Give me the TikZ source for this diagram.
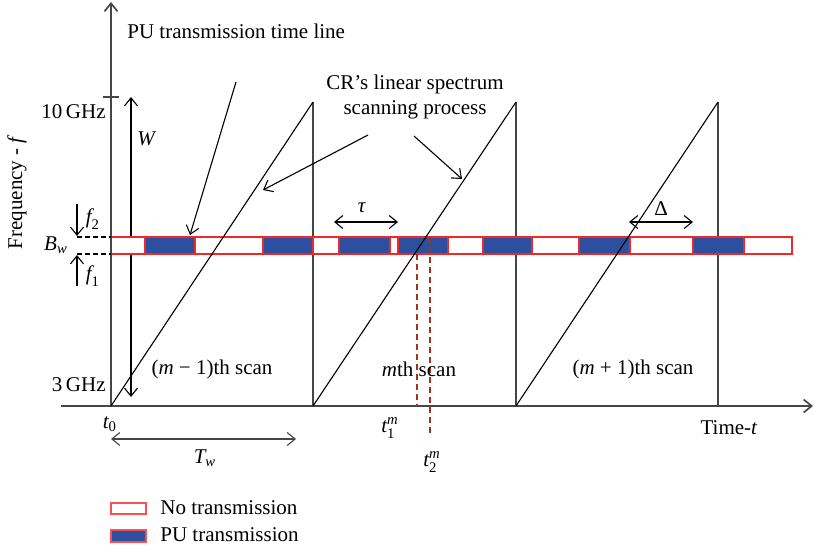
\documentclass[tikz,border=0pt]{standalone}
\usepackage{amsmath}
\usepackage{fontspec}
\setmainfont{Liberation Serif}
\usetikzlibrary{arrows.meta}
\definecolor{pub}{RGB}{46,78,158}
\definecolor{bandred}{RGB}{240,40,40}
\definecolor{legred}{RGB}{250,80,80}
\definecolor{axisgray}{RGB}{70,70,70}
\definecolor{dashred}{RGB}{160,50,30}
\begin{document}
\begin{tikzpicture}[x=0.5pt,y=-0.5pt,
  font=\fontsize{10.5}{12.5}\selectfont,
  onetip/.style={-{Straight Barb[length=4pt,width=6.5pt]}, line width=0.55pt},
  twotip/.style={{Straight Barb[length=4pt,width=6.5pt]}-{Straight Barb[length=4pt,width=6.5pt]}, line width=0.55pt},
  axisline/.style={draw=axisgray, line width=0.85pt},
  dropline/.style={draw=axisgray, line width=0.75pt},
  rampline/.style={draw=black, line width=0.55pt},
  whitecell/.style={draw=bandred, fill=white, line width=0.6pt},
  bluecell/.style={draw=bandred, fill=pub, line width=0.6pt},
  reddash/.style={draw=dashred, line width=0.6pt, dash pattern=on 3pt off 2pt},
  blackdash/.style={draw=black, line width=0.55pt, dash pattern=on 2.5pt off 1.5pt},
  lbl/.style={inner sep=0pt}]
\useasboundingbox (0,0) rectangle (815,548);

% coordinates
\coordinate (O) at (111,406);
\coordinate (ytop) at (111,2);
\coordinate (xleft) at (61,406);
\coordinate (xright) at (813,406);
\coordinate (tickL) at (103,97);
\coordinate (tickR) at (119,97);

% drop lines of the scans
\coordinate (p1) at (313,102); \coordinate (b1) at (313,406);
\coordinate (p2) at (516,102); \coordinate (b2) at (516,406);
\coordinate (p3) at (718,102); \coordinate (b3) at (718,406);
\draw[dropline] (p1) -- (b1);
\draw[dropline] (p2) -- (b2);
\draw[dropline] (p3) -- (b3);

% W arrow
\coordinate (wtop) at (131,97);
\coordinate (wbot) at (131,397);
\draw[twotip] (wtop) -- (wbot);

% band
\foreach \a/\b in {111/145,195/263,313/339,390/398,448/483,532/579,630/693,744/792}
  \draw[whitecell] (\a,237) rectangle (\b,254);
\foreach \a/\b in {145/195,263/313,339/390,398/448,483/532,579/630,693/744}
  \draw[bluecell] (\a,237) rectangle (\b,254);

% axes
\draw[axisline, -{Straight Barb[length=4pt,width=6.5pt]}] (O) -- (ytop);
\draw[axisline, -{Straight Barb[length=4pt,width=6.5pt]}] (xleft) -- (xright);
\draw[axisline] (tickL) -- (tickR);

% ramps
\draw[rampline] (O) -- (p1);
\draw[rampline] (b1) -- (p2);
\draw[rampline] (b2) -- (p3);

% red dashed lines
\coordinate (d1a) at (417,254); \coordinate (d1b) at (417,406);
\coordinate (d2a) at (430,237); \coordinate (d2b) at (430,433);
\draw[reddash] (d1a) -- (d1b);
\draw[reddash] (d2a) -- (d2b);

% Bw dashes and f arrows
\coordinate (bw1a) at (77,237); \coordinate (bw1b) at (111,237);
\coordinate (bw2a) at (77,254); \coordinate (bw2b) at (111,254);
\draw[blackdash] (bw1a) -- (bw1b);
\draw[blackdash] (bw2a) -- (bw2b);
\coordinate (f2s) at (77,204); \coordinate (f2e) at (77,236);
\coordinate (f1s) at (77,286); \coordinate (f1e) at (77,255);
\draw[onetip] (f2s) -- (f2e);
\draw[onetip] (f1s) -- (f1e);

% tau, Delta, Tw arrows
\coordinate (taua) at (334,222); \coordinate (taub) at (398,222);
\draw[twotip] (taua) -- (taub);
\coordinate (dela) at (629,222); \coordinate (delb) at (693,222);
\draw[twotip] (dela) -- (delb);
\coordinate (twa) at (111,439); \coordinate (twb) at (296,439);
\draw[twotip, draw=axisgray] (twa) -- (twb);

% labels
\node[lbl, anchor=west] (pulab) at (127,31) {PU transmission time line};
\node[lbl, align=center] (crlab) at (415,97) {CR’s linear spectrum\\scanning process};
\node[lbl, anchor=east] (ghz10) at (106,112) {10\,GHz};
\node[lbl, anchor=east] (ghz3) at (106,385) {3\,GHz};
\node[lbl] (wlab) at (147,139) {\textit{W}};
\node[lbl] (f2lab) at (93,219) {$\textit{f}_{\text{2}}$};
\node[lbl] (f1lab) at (93,276) {$\textit{f}_{\text{1}}$};
\node[lbl] (bwlab) at (56,245) {$\textit{B}_{\textit{w}}$};
\node[lbl, rotate=90] (freqlab) at (17,192) {Frequency - \textit{f}};
\node[lbl] (taulab) at (362,208) {\textit{τ}};
\node[lbl] (dellab) at (661,209) {Δ};
\node[lbl] (scan1) at (212,369) {(\textit{m} − 1)th scan};
\node[lbl] (scan2) at (419,369) {\textit{m}th scan};
\node[lbl] (scan3) at (633,369) {(\textit{m} + 1)th scan};
\node[lbl] (t0lab) at (110,424) {$\textit{t}_{\text{0}}$};
\node[lbl] (t1lab) at (390,428) {$\textit{t}^{\textit{m}}_{\text{1}}$};
\node[lbl] (t2lab) at (432,462) {$\textit{t}^{\textit{m}}_{\text{2}}$};
\node[lbl] (twlab) at (205,458) {$\textit{T}_{\textit{w}}$};
\node[lbl] (timelab) at (729,428) {Time-\textit{t}};

% label arrows
\coordinate (pua) at (236,82); \coordinate (pub2) at (190,235);
\draw[onetip] (pua) -- (pub2);
\coordinate (cra) at (368,135); \coordinate (crb) at (263,190);
\draw[onetip] (cra) -- (crb);
\coordinate (crc) at (414,136); \coordinate (crd) at (462,179);
\draw[onetip] (crc) -- (crd);

% legend
\draw[draw=legred, fill=white, line width=0.6pt] (111,503) rectangle (146,514);
\draw[draw=legred, fill=pub, line width=0.6pt] (111,530) rectangle (146,542);
\node[lbl, anchor=west] (leg1) at (160,508) {No transmission};
\node[lbl, anchor=west] (leg2) at (160,535) {PU transmission};
\end{tikzpicture}
\end{document}
